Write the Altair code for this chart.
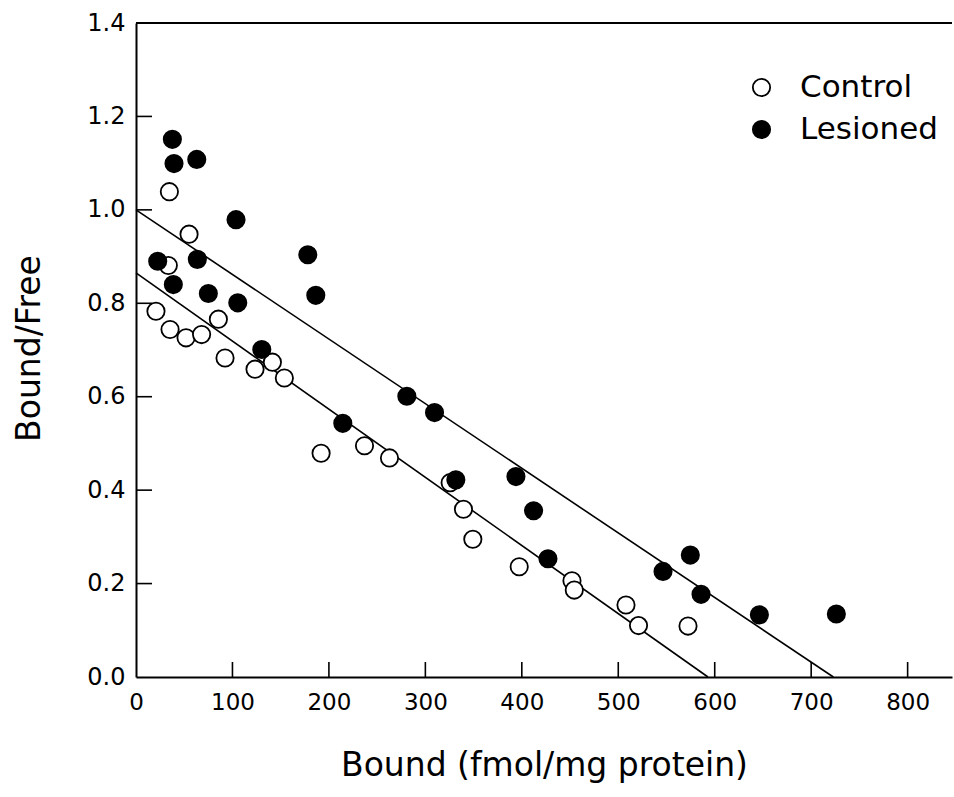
import altair as alt
import pandas as pd

# Control (open circles)
control_x = [34.6, 55.0, 33.5, 20.7, 35.3, 51.9, 68.0, 85.4, 92.3, 123.4, 141.4, 153.8,
             191.9, 236.9, 262.8, 325.7, 339.5, 349.2, 397.3, 452.0, 454.4, 508.0, 521.0, 572.3]
control_y = [1.039, 0.948, 0.881, 0.783, 0.744, 0.726, 0.733, 0.766, 0.683, 0.659, 0.674, 0.640,
             0.479, 0.495, 0.469, 0.416, 0.359, 0.295, 0.236, 0.206, 0.186, 0.154, 0.110, 0.109]
# Lesioned (filled circles)
lesioned_x = [37.7, 39.4, 63.0, 103.7, 22.5, 63.6, 38.7, 75.0, 105.5, 178.1, 186.4, 130.4,
              280.8, 309.5, 214.4, 331.6, 393.9, 412.2, 427.1, 546.4, 574.7, 585.8, 646.3, 726.1]
lesioned_y = [1.151, 1.099, 1.108, 0.979, 0.890, 0.894, 0.840, 0.821, 0.801, 0.904, 0.817, 0.701,
              0.601, 0.566, 0.543, 0.422, 0.429, 0.356, 0.253, 0.226, 0.261, 0.177, 0.133, 0.135]

# Regression lines (endpoints: intercept on y and x axes)
line_group = ["Control", "Control", "Lesioned", "Lesioned"]
line_x = [0, 593, 0, 723]
line_y = [0.865, 0.0, 1.0, 0.0]

x_ticks = [100, 200, 300, 400, 500, 600, 700, 800]
y_ticks = [0.2, 0.4, 0.6, 0.8, 1.0, 1.2]
x_labels = [0, 100, 200, 300, 400, 500, 600, 700, 800]
y_labels = [0.0, 0.2, 0.4, 0.6, 0.8, 1.0, 1.2, 1.4]

X_MAX = 846
Y_MAX = 1.4
W, H = 816, 654

pts = pd.DataFrame({
    "bound": control_x + lesioned_x,
    "bf": control_y + lesioned_y,
    "group": ["Control"] * len(control_x) + ["Lesioned"] * len(lesioned_x),
})
lines = pd.DataFrame({"bound": line_x, "bf": line_y, "group": line_group})

FONT = "DejaVu Sans"

xscale = alt.Scale(domain=[0, X_MAX], nice=False, zero=False)
yscale = alt.Scale(domain=[0, Y_MAX], nice=False, zero=False)

xaxis = alt.Axis(values=x_labels, format="d", ticks=False, grid=False, domain=True,
                 domainColor="black", domainWidth=2, labelFont=FONT, labelFontSize=23,
                 labelColor="black", labelPadding=14, labelFlush=False,
                 title="Bound (fmol/mg protein)", titleFont=FONT, titleFontSize=33,
                 titleFontWeight="normal", titleColor="black",
                 titleX=W / 2, titleY=88, titleBaseline="middle", titleAlign="center")
yaxis = alt.Axis(values=y_labels, format=".1f", ticks=False, grid=False, domain=True,
                 domainColor="black", domainWidth=2, labelFont=FONT, labelFontSize=24,
                 labelColor="black", labelPadding=11, labelFlush=False,
                 title="Bound/Free", titleFont=FONT, titleFontSize=33,
                 titleFontWeight="normal", titleColor="black",
                 titleX=-107, titleY=325, titleBaseline="middle", titleAlign="center", titleAngle=270)

base_lines = alt.Chart(lines).mark_line(color="black", strokeWidth=1.6).encode(
    x=alt.X("bound:Q", scale=xscale, axis=xaxis),
    y=alt.Y("bf:Q", scale=yscale, axis=yaxis),
    detail="group:N",
)

points = alt.Chart(pts).mark_point(shape="circle", filled=False, stroke="black",
                                   strokeWidth=1.8, size=300, opacity=1).encode(
    x=alt.X("bound:Q", scale=xscale),
    y=alt.Y("bf:Q", scale=yscale),
    fill=alt.Fill("group:N",
                  scale=alt.Scale(domain=["Control", "Lesioned"], range=["white", "black"]),
                  legend=alt.Legend(title=None, orient="none", legendX=610, legendY=49,
                                    labelFont=FONT, labelFontSize=31, labelColor="black",
                                    symbolSize=300, symbolStrokeColor="black",
                                    symbolStrokeWidth=1.8, symbolType="circle",
                                    labelOffset=23, rowPadding=10, padding=0)),
    order=alt.Order("group:N"),
)

top_border = alt.Chart(pd.DataFrame({"x0": [0], "x1": [X_MAX], "y": [Y_MAX]})).mark_rule(
    color="black", strokeWidth=2).encode(
    x=alt.X("x0:Q", scale=xscale), x2="x1:Q", y=alt.Y("y:Q", scale=yscale))

xt = alt.Chart(pd.DataFrame({"v": x_ticks})).mark_rule(color="black", strokeWidth=1.6).encode(
    x=alt.X("v:Q", scale=xscale), y=alt.value(H), y2=alt.value(H - 15))
yt = alt.Chart(pd.DataFrame({"v": y_ticks})).mark_rule(color="black", strokeWidth=1.6).encode(
    y=alt.Y("v:Q", scale=yscale), x=alt.value(0), x2=alt.value(16))

chart = alt.layer(base_lines, top_border, xt, yt, points).properties(
    width=W, height=H,
    autosize=alt.AutoSizeParams(type="none"),
    padding={"left": 136, "top": 23, "right": 2, "bottom": 120},
    background="white",
).configure_view(stroke=None)

chart.save("out.html", embed_options={"renderer": "svg", "actions": False})
